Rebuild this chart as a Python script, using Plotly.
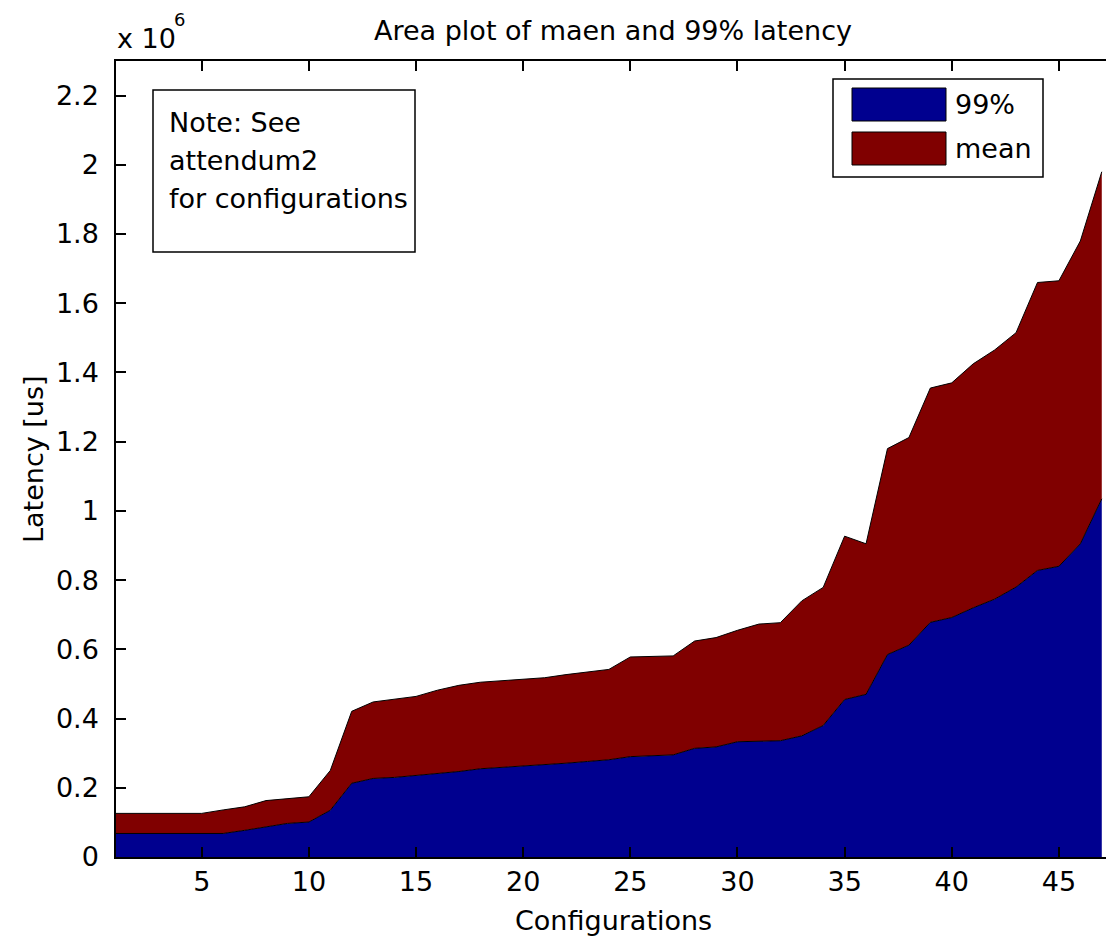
import plotly.graph_objects as go

# ---- data (latency in microseconds) ----
configurations = list(range(1, 48))
p99_us = [68000, 68000, 68000, 68000, 68000, 68000, 77000, 87000, 97000, 101000,
          135000, 213000, 227000, 230000, 235000, 240000, 247000, 255000, 259000, 261000,
          266000, 271000, 276000, 281000, 290000, 292000, 295000, 314000, 318000, 333000,
          334000, 336000, 350000, 380000, 455000, 470000, 585000, 612000, 678000, 692000,
          720000, 745000, 780000, 828000, 840000, 905000, 1035000]
mean_us = [58000, 58000, 58000, 58000, 58000, 68000, 68000, 76000, 72000, 73000,
           115000, 208000, 221000, 227000, 229000, 242000, 249000, 250000, 250000, 252000,
           252000, 256000, 258000, 261000, 288000, 287000, 286000, 310000, 316000, 322000,
           339000, 341000, 390000, 399000, 472000, 435000, 595000, 600000, 677000, 678000,
           705000, 720000, 735000, 832000, 825000, 875000, 945000]
series_names = ["99%", "mean"]
series_colors = ["#00008F", "#800000"]
x_ticks = [5, 10, 15, 20, 25, 30, 35, 40, 45]
y_tick_vals = [0, 200000, 400000, 600000, 800000, 1000000, 1200000, 1400000,
               1600000, 1800000, 2000000, 2200000]
y_tick_text = ["0", "0.2", "0.4", "0.6", "0.8", "1", "1.2", "1.4", "1.6", "1.8", "2", "2.2"]
note_lines = ["Note: See", "attendum2", "for configurations"]

FONT = "DejaVu Sans"
FS = 27
W, H = 1106, 938
L, T, B = 116, 61, 857  # plot area pixel edges
R = 1106


def px(xp):
    return (xp - L) / (R - L)


def py(yp):
    return (B - yp) / (B - T)


fig = go.Figure()
for name, vals, col in zip(series_names, [p99_us, mean_us], series_colors):
    fig.add_trace(go.Scatter(
        x=configurations, y=vals, name=name, stackgroup="one", mode="lines",
        line=dict(color="black", width=1), fillcolor=col, showlegend=False,
    ))

axis_common = dict(
    showline=True, linecolor="black", linewidth=1.5, ticks="inside", ticklen=10,
    tickwidth=1.5, tickcolor="black", showgrid=False, zeroline=False,
    tickfont=dict(family=FONT, size=FS, color="black"),
)
fig.update_xaxes(range=[1, 1 + (R - L) / 21.43], tickvals=x_ticks, mirror="ticks",
                 ticklabelstandoff=0, **axis_common)
fig.update_yaxes(range=[0, 2300000], tickvals=y_tick_vals, ticktext=y_tick_text,
                 mirror=False, ticklabelstandoff=10, **axis_common)

shapes = []
annotations = []

# note box
shapes.append(dict(type="rect", xref="paper", yref="paper",
                   x0=px(153), x1=px(415), y0=py(252), y1=py(90),
                   line=dict(color="black", width=1.5), fillcolor="white"))
for line, yc in zip(note_lines, [123, 160, 198]):
    annotations.append(dict(text=line, xref="paper", yref="paper", x=px(167), y=py(yc),
                            xanchor="left", yanchor="middle", showarrow=False,
                            font=dict(family=FONT, size=FS, color="black")))

# legend box
shapes.append(dict(type="rect", xref="paper", yref="paper",
                   x0=px(833), x1=px(1043), y0=py(177), y1=py(79),
                   line=dict(color="black", width=1.5), fillcolor="white"))
for name, col, (y0, y1) in zip(series_names, series_colors, [(88, 121), (132, 165)]):
    shapes.append(dict(type="rect", xref="paper", yref="paper",
                       x0=px(852), x1=px(946), y0=py(y1), y1=py(y0),
                       line=dict(color="black", width=1), fillcolor=col))
    annotations.append(dict(text=name, xref="paper", yref="paper", x=px(953),
                            y=py((y0 + y1) / 2), xanchor="left", yanchor="middle",
                            showarrow=False, font=dict(family=FONT, size=FS, color="black")))

# title
annotations.append(dict(text="Area plot of maen and 99% latency", xref="paper", yref="paper",
                        x=px(613), y=py(30), xanchor="center", yanchor="middle",
                        showarrow=False, font=dict(family=FONT, size=FS, color="black")))
# exponent
annotations.append(dict(text="x 10", xref="paper", yref="paper", x=px(115), y=py(38),
                        xanchor="left", yanchor="middle", showarrow=False,
                        font=dict(family=FONT, size=FS, color="black")))
annotations.append(dict(text="6", xref="paper", yref="paper", x=px(172), y=py(19),
                        xanchor="left", yanchor="middle", showarrow=False,
                        font=dict(family=FONT, size=18, color="black")))
# axis titles
annotations.append(dict(text="Configurations", xref="paper", yref="paper", x=px(613),
                        y=py(921), xanchor="center", yanchor="middle", showarrow=False,
                        font=dict(family=FONT, size=FS, color="black")))
annotations.append(dict(text="Latency [us]", xref="paper", yref="paper", x=px(33),
                        y=py(459), xanchor="center", yanchor="middle", showarrow=False,
                        textangle=-90, font=dict(family=FONT, size=FS, color="black")))

fig.update_layout(
    width=W, height=H, margin=dict(l=L, r=W - R, t=T, b=H - B),
    paper_bgcolor="white", plot_bgcolor="white", showlegend=False,
    font=dict(family=FONT, size=FS, color="black"),
    shapes=shapes, annotations=annotations,
)

fig.write_html("out.html")
